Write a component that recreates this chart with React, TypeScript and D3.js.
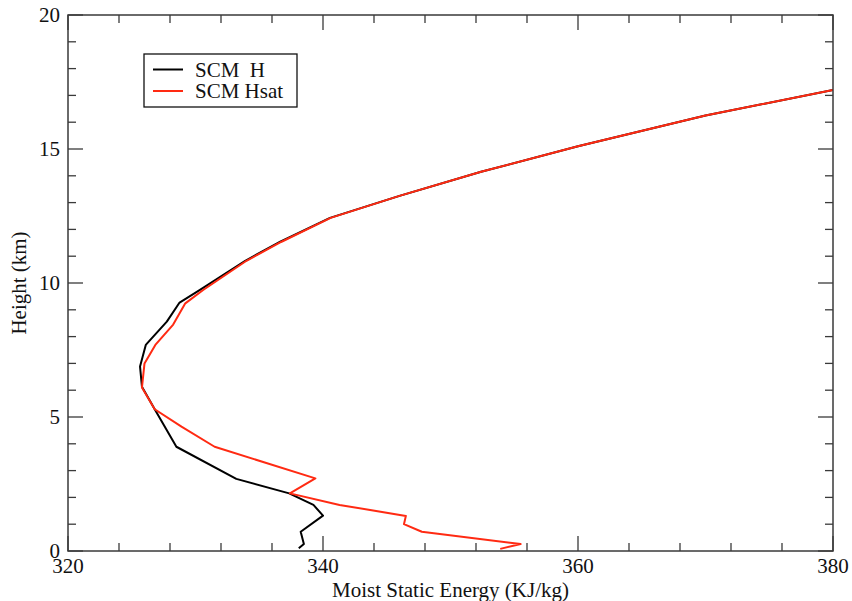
import React from "react";
import * as d3 from "d3";

// Moist static energy profiles (KJ/kg) against height (km)
const hHeights = [0.10, 0.26, 0.72, 1.32, 1.72, 2.15, 2.69, 3.89, 5.29, 6.13, 6.88, 7.69, 8.56, 9.27, 9.74, 10.83, 11.54, 12.43, 13.25, 14.15, 15.1, 16.25, 17.2];
const hValues = [338.1, 338.5, 338.25, 340.0, 339.25, 337.35, 333.2, 328.5, 326.8, 325.8, 325.65, 326.1, 327.75, 328.75, 330.35, 333.9, 336.65, 340.55, 346.0, 352.4, 360.0, 370.0, 380.0];

const hsatHeights = [0.08, 0.26, 0.72, 1.0, 1.31, 1.72, 2.15, 2.71, 3.89, 4.64, 5.29, 6.1, 7.0, 7.69, 8.45, 9.24, 9.74, 10.83, 11.54, 12.43, 13.25, 14.15, 15.1, 16.25, 17.2];
const hsatValues = [353.9, 355.5, 347.75, 346.35, 346.5, 341.3, 337.4, 339.4, 331.5, 328.9, 326.8, 325.8, 326.0, 326.85, 328.25, 329.2, 330.6, 334.0, 336.75, 340.6, 346.0, 352.4, 360.0, 370.0, 380.0];

const seriesNames = ["SCM  H", "SCM Hsat"];
const seriesColors = ["#000000", "#ff2a12"];

const xMajorTicks = [320, 340, 360, 380];
const yMajorTicks = [0, 5, 10, 15, 20];

const W = 852;
const H = 601;
const plot = { left: 68, right: 833, top: 15, bottom: 551 };

export default function App() {
  const x = d3.scaleLinear().domain([320, 380]).range([plot.left, plot.right]);
  const y = d3.scaleLinear().domain([0, 20]).range([plot.bottom, plot.top]);

  const line = d3
    .line<[number, number]>()
    .x((d) => x(d[0]))
    .y((d) => y(d[1]));

  const hPts = hValues.map((v, i) => [v, hHeights[i]] as [number, number]);
  const hsatPts = hsatValues.map((v, i) => [v, hsatHeights[i]] as [number, number]);

  const xMinor = d3.range(320, 380.01, 4).filter((v) => !xMajorTicks.includes(v));
  const yMinor = d3.range(0, 20.01, 1).filter((v) => !yMajorTicks.includes(v));

  const frame = "#3a3a3a";
  const font = "'Liberation Serif', 'Times New Roman', serif";
  const majorLen = 15;
  const minorLen = 8;

  return (
    <svg
      width={W}
      height={H}
      style={{ position: "absolute", left: 0, top: 0, background: "#fff" }}
      fontFamily={font}
    >
      <defs>
        <clipPath id="plotClip">
          <rect x={plot.left} y={plot.top} width={plot.right - plot.left} height={plot.bottom - plot.top} />
        </clipPath>
      </defs>

      {/* ticks on all four sides, pointing inward */}
      <g stroke={frame} strokeWidth={1.3}>
        {xMajorTicks.map((v) => (
          <g key={"xM" + v}>
            <line x1={x(v)} x2={x(v)} y1={plot.bottom} y2={plot.bottom - majorLen} />
            <line x1={x(v)} x2={x(v)} y1={plot.top} y2={plot.top + majorLen} />
          </g>
        ))}
        {xMinor.map((v) => (
          <g key={"xm" + v}>
            <line x1={x(v)} x2={x(v)} y1={plot.bottom} y2={plot.bottom - minorLen} />
            <line x1={x(v)} x2={x(v)} y1={plot.top} y2={plot.top + minorLen} />
          </g>
        ))}
        {yMajorTicks.map((v) => (
          <g key={"yM" + v}>
            <line x1={plot.left} x2={plot.left + majorLen} y1={y(v)} y2={y(v)} />
            <line x1={plot.right} x2={plot.right - majorLen} y1={y(v)} y2={y(v)} />
          </g>
        ))}
        {yMinor.map((v) => (
          <g key={"ym" + v}>
            <line x1={plot.left} x2={plot.left + minorLen} y1={y(v)} y2={y(v)} />
            <line x1={plot.right} x2={plot.right - minorLen} y1={y(v)} y2={y(v)} />
          </g>
        ))}
      </g>

      {/* profiles */}
      <g clipPath="url(#plotClip)" fill="none" strokeWidth={2} strokeLinejoin="round">
        <path d={line(hPts) ?? ""} stroke={seriesColors[0]} />
        <path d={line(hsatPts) ?? ""} stroke={seriesColors[1]} />
      </g>

      {/* frame */}
      <rect
        x={plot.left}
        y={plot.top}
        width={plot.right - plot.left}
        height={plot.bottom - plot.top}
        fill="none"
        stroke={frame}
        strokeWidth={1.5}
      />

      {/* tick labels */}
      <g fontSize={21} fill="#111">
        {xMajorTicks.map((v) => (
          <text key={"xl" + v} x={x(v)} y={plot.bottom + 22} textAnchor="middle">
            {v}
          </text>
        ))}
        {yMajorTicks.map((v) => (
          <text key={"yl" + v} x={plot.left - 8} y={y(v)} dy="0.35em" textAnchor="end">
            {v}
          </text>
        ))}
      </g>

      {/* axis titles */}
      <text x={(plot.left + plot.right) / 2} y={597} textAnchor="middle" fontSize={21} fill="#111">
        Moist Static Energy (KJ/kg)
      </text>
      <text
        transform={`translate(26, ${(plot.top + plot.bottom) / 2}) rotate(-90)`}
        textAnchor="middle"
        fontSize={21}
        fill="#111"
      >
        Height (km)
      </text>

      {/* legend */}
      <g>
        <rect x={144} y={54} width={153} height={53} fill="#fff" stroke="#111" strokeWidth={1.3} />
        {seriesNames.map((name, i) => (
          <g key={name}>
            <line x1={153} x2={183} y1={69.5 + i * 21.5} y2={69.5 + i * 21.5} stroke={seriesColors[i]} strokeWidth={2} />
            <text x={195} y={76.5 + i * 21.5} fontSize={21} fill="#111" style={{ whiteSpace: "pre" }}>
              {name}
            </text>
          </g>
        ))}
      </g>
    </svg>
  );
}
